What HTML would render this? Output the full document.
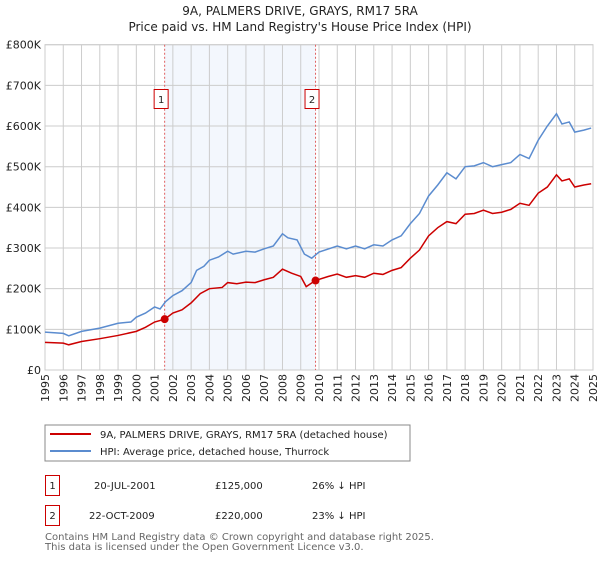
<!DOCTYPE html>
<html><head><meta charset="utf-8"><style>
body{margin:0;background:#fff;font-family:"DejaVu Sans","Liberation Sans",sans-serif;}
svg text{font-family:"DejaVu Sans","Liberation Sans",sans-serif;}
</style></head><body>
<svg id="chart" width="600" height="560" viewBox="0 0 600 560" xmlns="http://www.w3.org/2000/svg">
<text x="300" y="15" text-anchor="middle" font-size="12" fill="#222">9A, PALMERS DRIVE, GRAYS, RM17 5RA</text>
<text x="300" y="31" text-anchor="middle" font-size="12" fill="#222">Price paid vs. HM Land Registry's House Price Index (HPI)</text>
<g id="plot"></g>
<rect x="45" y="425" width="365" height="36" fill="#fff" stroke="#888"/>
<line x1="50" y1="434" x2="91" y2="434" stroke="#cc0000" stroke-width="2"/>
<text x="100" y="438" font-size="10" fill="#222">9A, PALMERS DRIVE, GRAYS, RM17 5RA (detached house)</text>
<line x1="50" y1="451" x2="91" y2="451" stroke="#5b8ccf" stroke-width="2"/>
<text x="100" y="455" font-size="10" fill="#222">HPI: Average price, detached house, Thurrock</text>
<g>
<rect x="45.5" y="475.5" width="14" height="20" fill="none" stroke="#cc0000"/>
<text x="52.5" y="489" text-anchor="middle" font-size="10" fill="#222">1</text>
<text x="94" y="489" font-size="10" fill="#222">20-JUL-2001</text>
<text x="215" y="489" font-size="10" fill="#222">£125,000</text>
<text x="312" y="489" font-size="10" fill="#222">26% ↓ HPI</text>
</g>
<g>
<rect x="45.5" y="505.5" width="14" height="20" fill="none" stroke="#cc0000"/>
<text x="52.5" y="519" text-anchor="middle" font-size="10" fill="#222">2</text>
<text x="89" y="519" font-size="10" fill="#222">22-OCT-2009</text>
<text x="215" y="519" font-size="10" fill="#222">£220,000</text>
<text x="312" y="519" font-size="10" fill="#222">23% ↓ HPI</text>
</g>
<text x="45" y="540" font-size="10" fill="#666">Contains HM Land Registry data © Crown copyright and database right 2025.</text>
<text x="45" y="550" font-size="10" fill="#666">This data is licensed under the Open Government Licence v3.0.</text>
</svg>
<script>
const hpiYears=[1995,1996,1996.3,1997,1998,1999,1999.7,2000,2000.5,2001,2001.3,2001.6,2002,2002.5,2003,2003.3,2003.7,2004,2004.5,2005,2005.3,2006,2006.5,2007,2007.5,2008,2008.3,2008.8,2009.2,2009.6,2010,2011,2011.5,2012,2012.5,2013,2013.5,2014,2014.5,2015,2015.5,2016,2016.5,2017,2017.5,2018,2018.5,2019,2019.5,2020,2020.5,2021,2021.5,2022,2022.5,2023,2023.3,2023.7,2024,2024.5,2024.9];
const hpiValues=[93,90,84,95,103,115,118,130,140,155,150,168,183,195,215,245,255,270,278,292,285,292,290,298,305,335,325,320,285,275,290,305,298,305,298,308,305,320,330,360,385,428,455,485,470,500,502,510,500,505,510,530,520,565,600,630,605,610,585,590,595];
const propYears=[1995,1996,1996.3,1997,1998,1999,2000,2000.5,2001,2001.55,2002,2002.5,2003,2003.5,2004,2004.7,2005,2005.5,2006,2006.5,2007,2007.5,2008,2008.5,2009,2009.3,2009.8,2010.5,2011,2011.5,2012,2012.5,2013,2013.5,2014,2014.5,2015,2015.5,2016,2016.5,2017,2017.5,2018,2018.5,2019,2019.5,2020,2020.5,2021,2021.5,2022,2022.5,2023,2023.3,2023.7,2024,2024.5,2024.9];
const propValues=[68,66,62,70,77,85,95,105,118,125,140,148,165,188,200,203,215,212,216,215,222,228,248,238,230,205,220,230,236,228,232,228,238,235,245,252,275,295,330,350,365,360,383,385,393,385,388,395,410,405,435,450,480,465,470,450,455,458];
const saleYears=[2001.55,2009.81];
const saleValues=[125,220];
const saleLabels=["1","2"];
const yTicks=[0,100,200,300,400,500,600,700,800];
const yTickLabels=["£0","£100K","£200K","£300K","£400K","£500K","£600K","£700K","£800K"];
const xTicks=[1995,1996,1997,1998,1999,2000,2001,2002,2003,2004,2005,2006,2007,2008,2009,2010,2011,2012,2013,2014,2015,2016,2017,2018,2019,2020,2021,2022,2023,2024,2025];

const L=45,R=593,T=44.7,B=370;
const xs=y=>L+(y-1995)/30*(R-L);
const ys=v=>B-v/800*(B-T);
const NS="http://www.w3.org/2000/svg";
const g=document.getElementById('plot');
function mk(tag,attrs){const e=document.createElementNS(NS,tag);for(const k in attrs)e.setAttribute(k,attrs[k]);g.appendChild(e);return e;}
let e;
e=mk('rect',{x:xs(saleYears[0]),y:T,width:xs(saleYears[1])-xs(saleYears[0]),height:B-T,fill:'#eef3fc',opacity:0.7});


xTicks.forEach(t=>{
 e=mk('line',{x1:xs(t),x2:xs(t),y1:T,y2:B,stroke:'#ccc','stroke-width':1});
 
 
 e=mk('text',{x:0,y:0,transform:`translate(${xs(t)+4},${B+4}) rotate(-90)`,'text-anchor':'end','font-size':11,fill:'#222'});
 e.textContent=t;
 
 
});
yTicks.forEach((t,i)=>{
 e=mk('line',{x1:L,x2:R,y1:ys(t),y2:ys(t),stroke:'#ccc','stroke-width':1});
 
 
 e=mk('text',{x:L-4,y:ys(t)+4,'text-anchor':'end','font-size':11,fill:'#222'});
 e.textContent=yTickLabels[i];
 
 
});
e=mk('rect',{x:L,y:T,width:R-L,height:B-T,fill:'none',stroke:'#ccc'});


saleYears.forEach((y,i)=>{
 e=mk('line',{x1:xs(y),x2:xs(y),y1:T,y2:B,stroke:'#e06060','stroke-dasharray':'2,2','stroke-width':1});
 
 
 e=mk('rect',{x:xs(y)-10.5,y:89.5,width:14,height:19,fill:'#fff',stroke:'#cc0000'});
 
 
 e=mk('text',{x:xs(y)-3.5,y:103,'text-anchor':'middle','font-size':10,fill:'#222'});
 e.textContent=saleLabels[i];
 
 
});
e=mk('polyline',{points:hpiYears.map((y,i)=>xs(y)+','+ys(hpiValues[i])).join(' '),fill:'none',stroke:'#5b8ccf','stroke-width':1.5});


e=mk('polyline',{points:propYears.map((y,i)=>xs(y)+','+ys(propValues[i])).join(' '),fill:'none',stroke:'#cc0000','stroke-width':1.5});


saleYears.forEach((y,i)=>{
 e=mk('circle',{cx:xs(y),cy:ys(saleValues[i]),r:4,fill:'#cc0000'});
 
 
});
</script>
</body></html>
